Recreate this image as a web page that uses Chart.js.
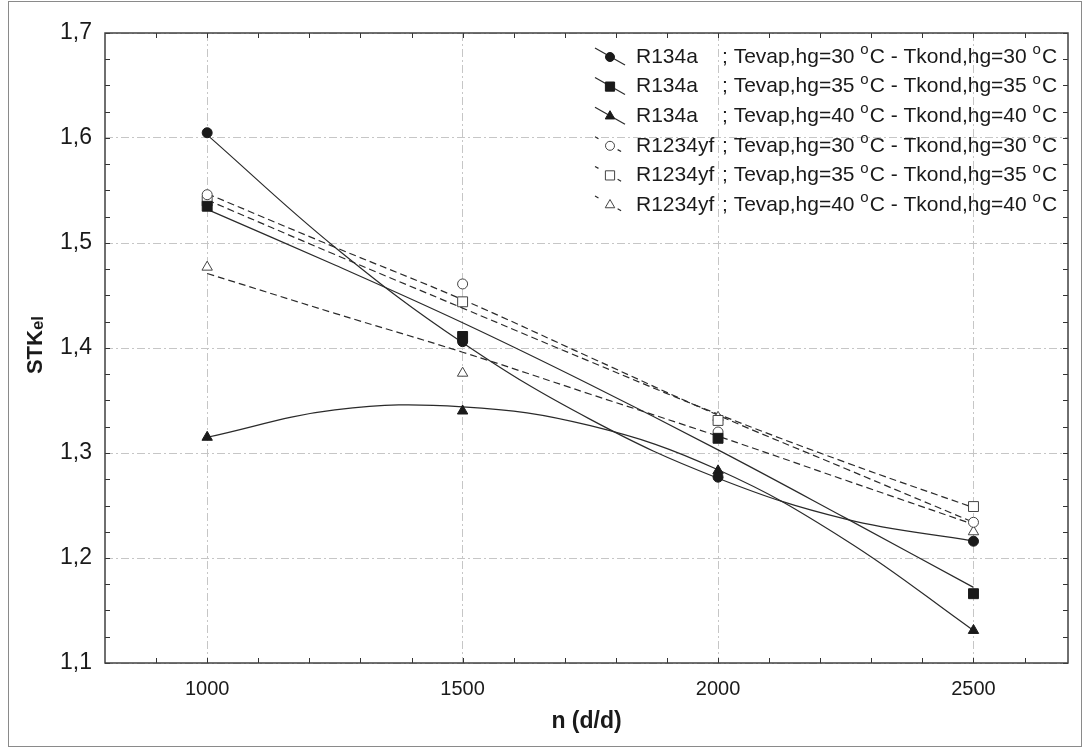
<!DOCTYPE html>
<html>
<head>
<meta charset="utf-8">
<title>STKel - n (d/d)</title>
<script src="https://cdn.jsdelivr.net/npm/chart.js@4.4.0/dist/chart.umd.min.js"></script>
<style>
    html, body { margin: 0; padding: 0; background: #fff; }
    #wrap { position: relative; width: 1084px; height: 751px; }
    #frame { position: absolute; left: 8px; top: 1px; width: 1072px; height: 744px; border: 1px solid #8a8a8a; pointer-events: none; }
    canvas { position: absolute; left: 0; top: 0; }
</style>
</head>
<body>
<div id="wrap">
    <canvas id="stkChart" width="1084" height="751"></canvas>
    <div id="frame"></div>
</div>
<script>
// measured points (n in d/d)
const rpm = [1000, 1500, 2000, 2500];
const r134a30 = [1.605, 1.406, 1.277, 1.216];
const r134a35 = [1.535, 1.411, 1.314, 1.166];
const r134a40 = [1.315, 1.340, 1.283, 1.131];
const r1234yf30 = [1.546, 1.461, 1.320, 1.234];
const r1234yf35 = [1.540, 1.444, 1.331, 1.249];
const r1234yf40 = [1.477, 1.376, 1.334, 1.225];

// fitted curves
const fitRpm = [1000, 1250, 1500, 1750, 2000, 2250, 2500];
const fitR134a30 = [1.603, 1.496, 1.405, 1.332, 1.276, 1.237, 1.216];
const fitR134a35 = [1.532, 1.479, 1.424, 1.365, 1.303, 1.238, 1.172];
const fitR134a40 = [1.315, 1.341, 1.344, 1.326, 1.284, 1.217, 1.131];
const fitR1234yf30 = [1.547, 1.496, 1.446, 1.391, 1.336, 1.285, 1.234];
const fitR1234yf35 = [1.541, 1.489, 1.438, 1.387, 1.337, 1.291, 1.248];
const fitR1234yf40 = [1.471, 1.433, 1.396, 1.356, 1.316, 1.274, 1.232];

const xTicks = [1000, 1500, 2000, 2500];
const yTicks = [1.1, 1.2, 1.3, 1.4, 1.5, 1.6, 1.7];
const fluids = ['R134a', 'R134a', 'R134a', 'R1234yf', 'R1234yf', 'R1234yf'];
const temps = ['30', '35', '40', '30', '35', '40'];

const FONT = "'Liberation Sans', Arial, sans-serif";
const INK = '#1a1a1a';

const series = [
    { pts: r134a30, fit: fitR134a30, style: 'circle', radius: 5, filled: true, dash: [] },
    { pts: r134a35, fit: fitR134a35, style: 'rect', radius: 7, filled: true, dash: [] },
    { pts: r134a40, fit: fitR134a40, style: 'triangle', radius: 6, filled: true, dash: [] },
    { pts: r1234yf30, fit: fitR1234yf30, style: 'circle', radius: 5, filled: false, dash: [7, 4] },
    { pts: r1234yf35, fit: fitR1234yf35, style: 'rect', radius: 7, filled: false, dash: [7, 4] },
    { pts: r1234yf40, fit: fitR1234yf40, style: 'triangle', radius: 6, filled: false, dash: [7, 4] }
];

const datasets = [];
series.forEach((s, i) => {
    datasets.push({
        label: fluids[i] + ' ' + temps[i],
        data: rpm.map((n, k) => ({ x: n, y: s.pts[k] })),
        showLine: false,
        pointStyle: s.style,
        pointRadius: s.radius,
        pointBackgroundColor: s.filled ? INK : '#fff',
        pointBorderColor: s.filled ? INK : '#444',
        pointBorderWidth: 1,
        order: 0
    });
    datasets.push({
        label: fluids[i] + ' ' + temps[i] + ' fit',
        data: fitRpm.map((n, k) => ({ x: n, y: s.fit[k] })),
        showLine: true,
        pointRadius: 0,
        borderColor: '#2a2a2a',
        borderWidth: 1.2,
        borderDash: s.dash,
        tension: 0.4,
        fill: false,
        order: 1
    });
});

// frame of the plot plus the small inner ticks
const frameTicks = {
    id: 'frameTicks',
    beforeDatasetsDraw(chart) {
        const { ctx, chartArea: a, scales: { x, y } } = chart;
        ctx.save();
        ctx.strokeStyle = '#333';
        ctx.lineWidth = 1;
        ctx.beginPath();
        for (let i = 0; i <= 24; i++) {
            const py = Math.round(y.getPixelForValue(1.1 + i * 0.025)) + 0.5;
            ctx.moveTo(a.left, py); ctx.lineTo(a.left + 5, py);
            ctx.moveTo(a.right - 5, py); ctx.lineTo(a.right, py);
        }
        for (let n = 900; n <= 2600; n += 100) {
            const px = Math.round(x.getPixelForValue(n)) + 0.5;
            ctx.moveTo(px, a.bottom); ctx.lineTo(px, a.bottom - 5);
            ctx.moveTo(px, a.top); ctx.lineTo(px, a.top + 5);
        }
        ctx.stroke();
        ctx.lineWidth = 1.5;
        ctx.strokeStyle = '#404040';
        ctx.strokeRect(a.left, a.top, a.right - a.left, a.bottom - a.top);
        ctx.restore();
    }
};

// axis titles (STK with smaller "el")
const axisTitles = {
    id: 'axisTitles',
    afterDraw(chart) {
        const { ctx, chartArea: a } = chart;
        ctx.save();
        ctx.fillStyle = INK;
        ctx.textBaseline = 'middle';
        ctx.textAlign = 'center';
        ctx.font = 'bold 23px ' + FONT;
        ctx.fillText('n (d/d)', (a.left + a.right) / 2, 722);

        ctx.translate(42, (a.top + a.bottom) / 2 - 3);
        ctx.rotate(-Math.PI / 2);
        ctx.textBaseline = 'alphabetic';
        ctx.textAlign = 'left';
        ctx.font = 'bold 22px ' + FONT;
        const w1 = ctx.measureText('STK').width;
        ctx.font = 'bold 17px ' + FONT;
        const w2 = ctx.measureText('el').width;
        const x0 = -(w1 + w2) / 2;
        ctx.font = 'bold 22px ' + FONT;
        ctx.fillText('STK', x0, 0);
        ctx.font = 'bold 17px ' + FONT;
        ctx.fillText('el', x0 + w1, 1);
        ctx.restore();
    }
};

// legend box in the upper right corner
const boxLegend = {
    id: 'boxLegend',
    afterDraw(chart) {
        const { ctx, chartArea: a } = chart;
        const x0 = a.right - 473;
        ctx.save();
        series.forEach((s, i) => {
            const yc = a.top + 24 + i * 29.6;
            ctx.strokeStyle = '#2a2a2a';
            ctx.lineWidth = 1.2;
            ctx.setLineDash(s.dash.length ? [4, 22] : []);
            ctx.beginPath();
            ctx.moveTo(x0, yc - 9);
            ctx.lineTo(x0 + 30, yc + 8);
            ctx.stroke();
            ctx.setLineDash([]);
            ctx.fillStyle = s.filled ? INK : '#fff';
            ctx.strokeStyle = s.filled ? INK : '#444';
            ctx.lineWidth = 1;
            Chart.helpers.drawPoint(ctx, { pointStyle: s.style, radius: s.radius - 0.5, rotation: 0, borderWidth: 1 }, x0 + 15, yc);

            ctx.fillStyle = INK;
            ctx.textBaseline = 'middle';
            ctx.textAlign = 'left';
            ctx.font = '21px ' + FONT;
            ctx.fillText(fluids[i], x0 + 41, yc);
            let tx = x0 + 127;
            const parts = [
                ['; Tevap,hg=' + temps[i] + ' ', false], ['o', true], ['C - Tkond,hg=' + temps[i] + ' ', false], ['o', true], ['C', false]
            ];
            parts.forEach(([txt, sup]) => {
                ctx.font = (sup ? '15px ' : '21px ') + FONT;
                ctx.fillText(txt, tx, sup ? yc - 7 : yc);
                tx += ctx.measureText(txt).width + (sup ? 1 : 0);
            });
        });
        ctx.restore();
    }
};

new Chart(document.getElementById('stkChart').getContext('2d'), {
    type: 'scatter',
    data: { datasets: datasets },
    options: {
        responsive: false,
        animation: false,
        layout: { padding: { top: 33, right: 16, left: 0, bottom: 0 } },
        plugins: {
            legend: { display: false },
            tooltip: { enabled: false }
        },
        scales: {
            x: {
                type: 'linear',
                min: 800,
                max: 2685,
                afterBuildTicks: (s) => { s.ticks = xTicks.map(v => ({ value: v })); },
                afterFit: (s) => { s.height = 88; },
                grid: { color: '#c6c6c6', lineWidth: 1, drawTicks: false },
                border: { display: false, dash: [8, 3, 2, 3] },
                ticks: {
                    padding: 14,
                    color: INK,
                    font: { family: FONT, size: 20 },
                    callback: (v) => String(v)
                }
            },
            y: {
                min: 1.1,
                max: 1.7,
                afterBuildTicks: (s) => { s.ticks = yTicks.map(v => ({ value: v })); },
                afterFit: (s) => { s.width = 105; },
                grid: { color: '#c6c6c6', lineWidth: 1, drawTicks: false },
                border: { display: false, dash: [8, 3, 2, 3] },
                ticks: {
                    padding: 13,
                    color: INK,
                    font: { family: FONT, size: 23 },
                    callback: (v) => v.toFixed(1).replace('.', ',')
                }
            }
        }
    },
    plugins: [frameTicks, axisTitles, boxLegend]
});
</script>
</body>
</html>
